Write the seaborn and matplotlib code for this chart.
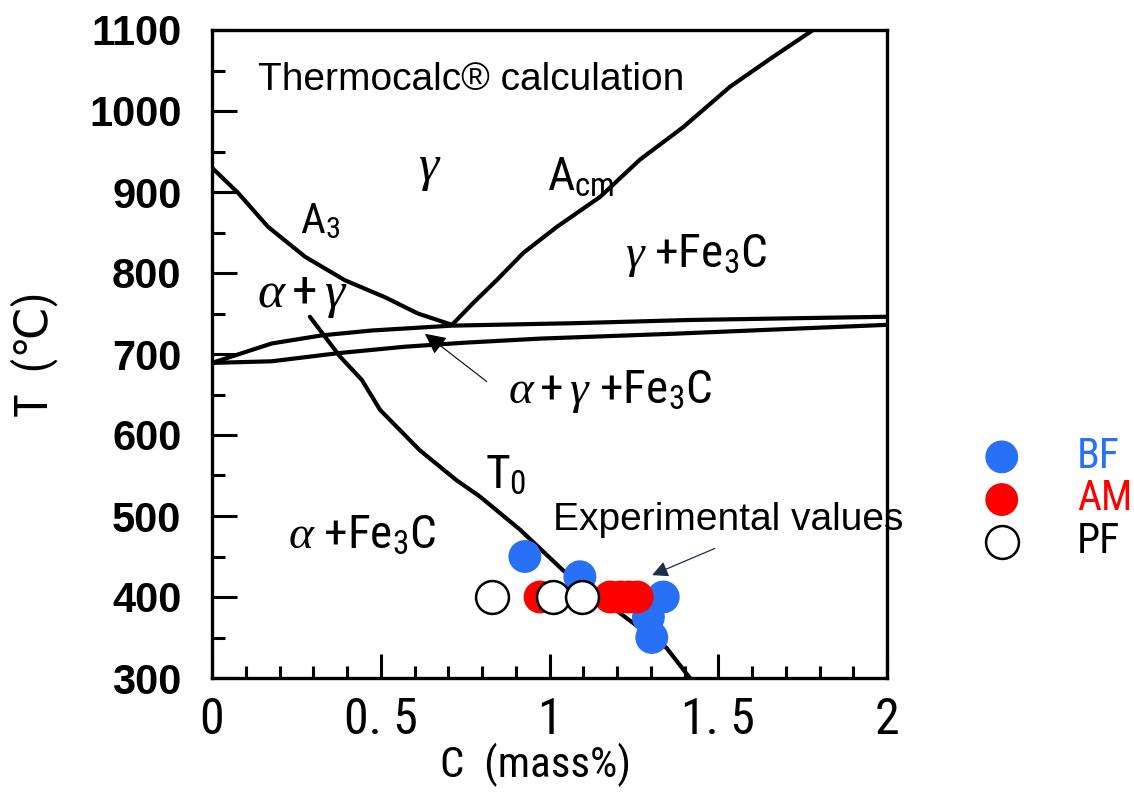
import matplotlib
matplotlib.use("Agg")
import matplotlib.pyplot as plt
import seaborn as sns
import pandas as pd
from matplotlib import font_manager as fm

# ---------------- data ----------------
a3_c = [0.0, 0.077, 0.166, 0.276, 0.394, 0.513, 0.61, 0.711]
a3_t = [930, 899, 857, 820, 791, 770, 750, 736]

acm_c = [0.711, 0.774, 0.843, 0.923, 1.022, 1.15, 1.268, 1.396, 1.535, 1.663, 1.781]
acm_t = [736, 763, 791, 825, 857, 894, 940, 980, 1030, 1067, 1100]

a1u_c = [0.0, 0.177, 0.325, 0.473, 0.71, 1.07, 1.416, 2.0]
a1u_t = [689, 713, 723, 729, 735, 738, 742, 746]

a1l_c = [0.0, 0.177, 0.373, 0.572, 0.75, 0.972, 1.367, 2.0]
a1l_t = [689, 691, 701, 709, 714, 719, 725, 736]

t0_c = [0.29, 0.379, 0.444, 0.498, 0.616, 0.725, 0.794, 0.913, 1.04, 1.209, 1.347, 1.416]
t0_t = [746, 697, 668, 631, 581, 544, 524, 483, 433, 380, 337, 300]

bf_c = [0.927, 1.09, 1.337, 1.293, 1.303]
bf_t = [450, 425, 400, 375, 350]
am_c = [0.972, 1.18, 1.21, 1.235, 1.26]
am_t = [400, 400, 400, 400, 400]
pf_c = [0.829, 1.011, 1.095]
pf_t = [400, 400, 400]

series_names = ["BF", "AM", "PF"]
series_colors = ["#2870F5", "#FF0000", "#FFFFFF"]
label_colors = ["#2870F5", "#FF0000", "#000000"]

x_ticks = [0, 0.5, 1, 1.5, 2]
x_tick_labels = ["0", "0. 5", "1", "1. 5", "2"]
y_ticks = [300, 400, 500, 600, 700, 800, 900, 1000, 1100]

arrow1_head = (0.631, 725)
arrow1_tail = (0.814, 666)
arrow2_head = (1.304, 427)
arrow2_tail = (1.49, 460)

# ---------------- fonts ----------------
names = {f.name for f in fm.fontManager.ttflist}
NARROW = "Liberation Sans"
for cand in ["Roboto Condensed", "Archivo Narrow", "PT Sans Narrow",
             "Liberation Sans Narrow", "Barlow Condensed", "Asap Condensed"]:
    if cand in names:
        NARROW = cand
        break

sns.set_style("ticks")
plt.rcParams["font.family"] = [NARROW, "DejaVu Sans"]
plt.rcParams["text.color"] = "black"
plt.rcParams["axes.labelcolor"] = "black"
plt.rcParams["xtick.color"] = "black"
plt.rcParams["ytick.color"] = "black"
plt.rcParams["mathtext.fontset"] = "custom"
plt.rcParams["mathtext.it"] = "Liberation Serif:italic"
plt.rcParams["mathtext.rm"] = NARROW
plt.rcParams["mathtext.default"] = "it"

fig = plt.figure(figsize=(11.34, 7.93), dpi=100)
fig.patch.set_facecolor("white")
ax = fig.add_axes([212 / 1134, 1 - 678 / 793, 675 / 1134, 648 / 793])
ax.set_facecolor("white")

LW = 3.0
for cx, ty in [(a3_c, a3_t), (acm_c, acm_t), (a1u_c, a1u_t), (a1l_c, a1l_t), (t0_c, t0_t)]:
    sns.lineplot(x=cx, y=ty, sort=False, estimator=None, color="black",
                 linewidth=LW, ax=ax, zorder=2)

S = 560
df = pd.DataFrame({
    "C": bf_c + am_c + pf_c,
    "T": bf_t + am_t + pf_t,
    "phase": ["BF"] * len(bf_c) + ["AM"] * len(am_c) + ["PF"] * len(pf_c),
})
handles = []
for i, name in enumerate(series_names):
    sub = df[df["phase"] == name]
    edge = "black" if name == "PF" else "none"
    lw = 1.8 if name == "PF" else 0
    sns.scatterplot(data=sub, x="C", y="T", color=series_colors[i], s=S,
                    edgecolor=edge, linewidth=lw, ax=ax, zorder=3 + i, legend=False)
    handles.append(ax.collections[-1])

# arrows
ax.annotate("", xy=arrow1_head, xytext=arrow1_tail,
            arrowprops=dict(arrowstyle="-|>", color="black", lw=0.8,
                            mutation_scale=32, shrinkA=0, shrinkB=0), zorder=5)
ax.annotate("", xy=arrow2_head, xytext=arrow2_tail,
            arrowprops=dict(arrowstyle="-|>", color="#1C2E4A", lw=0.9,
                            mutation_scale=24, shrinkA=0, shrinkB=0), zorder=5)

# region labels
FS = 34
ax.text(0.136, 1026, "Thermocalc® calculation", family="Liberation Sans",
        fontsize=28, ha="left", va="baseline")
ax.text(0.646, 930, r"$\gamma$", fontsize=37, ha="center", va="center")
ax.text(0.261, 849, r"A$_\mathregular{3}$", fontsize=31, ha="left", va="baseline")
ax.text(0.133, 758, r"$\alpha+\gamma$", fontsize=37, ha="left", va="baseline")
ax.text(0.993, 902, r"A$_\mathregular{cm}$", fontsize=FS, ha="left", va="baseline")
ax.text(1.224, 807, r"$\gamma$ +Fe$_\mathregular{3}$C", fontsize=FS, ha="left", va="baseline")
ax.text(0.877, 639, r"$\alpha+\gamma$ +Fe$_\mathregular{3}$C", fontsize=FS, ha="left", va="baseline")
ax.text(0.809, 534, r"T$_\mathregular{0}$", fontsize=FS, ha="left", va="baseline")
ax.text(0.225, 460, r"$\alpha$ +Fe$_\mathregular{3}$C", fontsize=FS, ha="left", va="baseline")
ax.text(1.010, 483, "Experimental values", family="Liberation Sans",
        fontsize=28, ha="left", va="baseline")

# axes
ax.set_xlim(0, 2)
ax.set_ylim(300, 1100)
for side in ["left", "bottom", "top", "right"]:
    ax.spines[side].set_visible(True)
    ax.spines[side].set_linewidth(2.4)
    ax.spines[side].set_color("black")

ax.set_xticks(x_ticks)
ax.set_xticklabels(x_tick_labels)
ax.set_xticks([i / 10 for i in range(21)], minor=True)
ax.set_yticks(y_ticks)
ax.set_yticks([300 + 50 * i for i in range(17)], minor=True)
ax.tick_params(axis="both", which="both", direction="in", color="black", width=2.2,
               top=False, right=False)
ax.tick_params(axis="x", which="major", length=17, pad=13, labelsize=36)
ax.tick_params(axis="x", which="minor", length=9)
ax.tick_params(axis="y", which="major", length=18, pad=22, labelsize=30)
ax.tick_params(axis="y", which="minor", length=9)
for lab in ax.get_yticklabels():
    lab.set_family("Liberation Sans")
    lab.set_fontweight("bold")

ax.set_xlabel("C  (mass%)", fontsize=31)
ax.xaxis.set_label_coords(0.48, -0.1)
ax.set_ylabel("T  (℃)", fontsize=33)
ax.yaxis.set_label_coords(-0.228, 0.5)

leg = ax.legend(handles, series_names, loc="center left",
                bbox_to_anchor=(983 / 1134, 1 - 499 / 793), bbox_transform=fig.transFigure,
                frameon=False, fontsize=30, handlelength=0.9, handletextpad=1.35,
                labelspacing=0.04, borderpad=0, borderaxespad=0)
for t, c in zip(leg.get_texts(), label_colors):
    t.set_color(c)

fig.savefig("out.png", dpi=100, facecolor="white")
